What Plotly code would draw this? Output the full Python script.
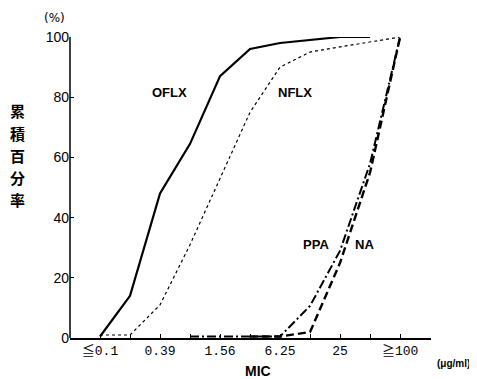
import plotly.graph_objects as go

# MIC categories (half-step positions between labelled concentrations)
mic_index = list(range(11))
cjk = "<span style=\"font-family:'Noto Sans CJK JP'\">"
tick_labels = [cjk + "≦</span>0.1", "", "0.39", "", "1.56", "", "6.25", "", "25", "", cjk + "≧</span>100"]

oflx_x = [0, 1, 2, 3, 4, 5, 6, 7, 8, 9]
oflx_y = [0.5, 14, 48, 64.5, 87, 96, 98, 99, 100, 100]

nflx_x = [0, 1, 2, 3, 4, 5, 6, 7, 8, 9, 10]
nflx_y = [1, 1, 11, 31, 53, 75, 90, 95, 96.7, 98.3, 100]

ppa_x = [3, 4, 5, 6, 7, 8, 9, 10]
ppa_y = [0.5, 0.5, 0.5, 0.5, 10.7, 29, 58, 100]

na_x = [5, 6, 7, 8, 9, 10]
na_y = [0.5, 0.5, 2, 25, 55, 100]

series_labels = ["OFLX", "NFLX", "PPA", "NA"]
y_ticks = [0, 20, 40, 60, 80, 100]

fig = go.Figure()
fig.add_trace(go.Scatter(x=oflx_x, y=oflx_y, mode="lines",
                         line=dict(color="black", width=2.2)))
fig.add_trace(go.Scatter(x=nflx_x, y=nflx_y, mode="lines",
                         line=dict(color="black", width=1.2, dash="3px,3px")))
fig.add_trace(go.Scatter(x=ppa_x, y=ppa_y, mode="lines",
                         line=dict(color="black", width=2, dash="9px,3px,2px,3px")))
fig.add_trace(go.Scatter(x=na_x, y=na_y, mode="lines",
                         line=dict(color="black", width=2.4, dash="8px,4px")))

label_pos = [(2.3, 81.5), (6.5, 81.5), (7.2, 31), (8.8, 31)]
for name, (lx, ly) in zip(series_labels, label_pos):
    fig.add_annotation(x=lx, y=ly, text="<b>" + name + "</b>", showarrow=False,
                       font=dict(family="Liberation Sans, Arial, sans-serif", size=13, color="black"))

# y axis line (ends at 100)
fig.add_shape(type="line", xref="paper", x0=0, x1=0, yref="y", y0=0, y1=100,
              line=dict(color="black", width=1.5))

# vertical y title
title_chars = ["累", "積", "百", "分", "率"]
for k, ch in enumerate(title_chars):
    fig.add_annotation(xref="paper", yref="paper", x=-0.145, y=(338 - 111 - k * 22) / 301.0,
                       text="<b>" + ch + "</b>", showarrow=False, xanchor="center", yanchor="middle",
                       font=dict(family="Noto Sans CJK JP", size=15, color="black"))

fig.add_annotation(xref="paper", yref="paper", x=-0.008, y=(338 - 18) / 301.0, text="(%)",
                   showarrow=False, xanchor="right", yanchor="middle",
                   font=dict(family="DejaVu Sans", size=12, color="black"))
fig.add_annotation(xref="paper", yref="paper", x=0.52, y=-(371 - 338) / 301.0, text="<b>MIC</b>",
                   showarrow=False, xanchor="center", yanchor="middle",
                   font=dict(family="Liberation Sans, Arial, sans-serif", size=14, color="black"))
fig.add_annotation(xref="paper", yref="paper", x=1.0 + (453 - 431) / 361.0, y=-(363 - 338) / 301.0,
                   text="<b>(μg/ml)</b>", showarrow=False, xanchor="center", yanchor="middle",
                   font=dict(family="Liberation Sans, Arial, sans-serif", size=10, color="black"))

# page body has an 8px margin, so the figure is 8px smaller and the margins shifted
fig.update_layout(
    width=469, height=371,
    margin=dict(l=62, r=46, t=29, b=41),
    paper_bgcolor="white", plot_bgcolor="white",
    showlegend=False,
    xaxis=dict(range=[-1, 11.03], tickvals=mic_index, ticktext=tick_labels,
               ticks="inside", ticklen=4, tickwidth=1, tickcolor="black",
               showline=True, linecolor="black", linewidth=1.5,
               showgrid=False, zeroline=False,
               tickfont=dict(family="Liberation Mono, DejaVu Sans Mono, monospace", size=13, color="black")),
    yaxis=dict(range=[0, 100], tickvals=y_ticks,
               ticks="inside", ticklen=4, tickwidth=1, tickcolor="black",
               showline=False, showgrid=False, zeroline=False,
               tickfont=dict(family="Liberation Sans, Arial, sans-serif", size=14, color="black")),
)

fig.write_html("out.html")
